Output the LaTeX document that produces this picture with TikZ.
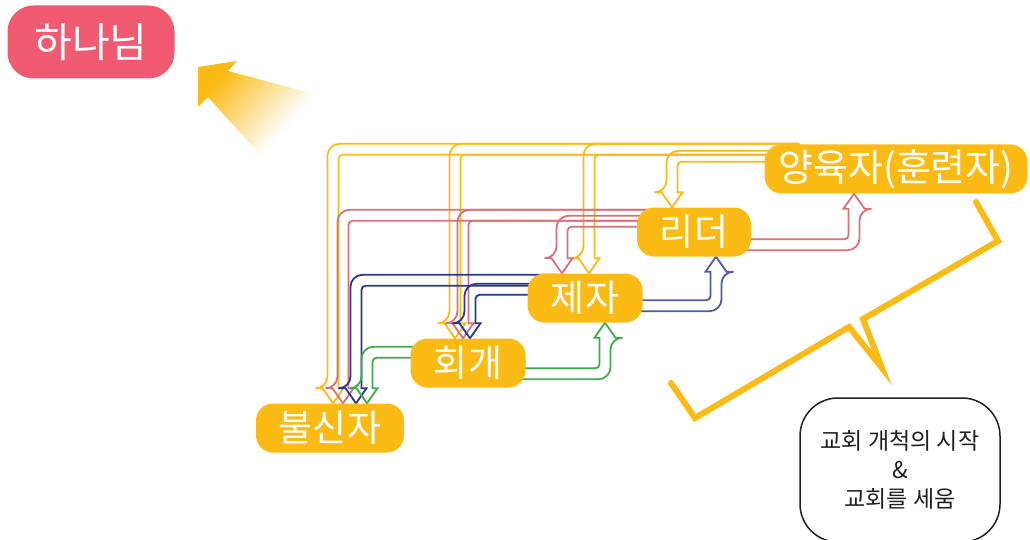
\documentclass[tikz,border=0pt]{standalone}
\usepackage{fontspec}
\newfontfamily\kr{Noto Sans CJK KR}
\usetikzlibrary{calc,backgrounds}

\definecolor{stageyellow}{RGB}{252,186,20}
\definecolor{godpink}{RGB}{241,91,114}
\definecolor{flowpink}{RGB}{219,112,122}
\definecolor{flownavy}{RGB}{40,57,143}
\definecolor{flowblue}{RGB}{76,90,168}
\definecolor{flowgreen}{RGB}{62,172,74}
\definecolor{notetext}{RGB}{35,31,32}

\newcommand\flowhalf{5.5}
\newcommand\flowlen{15}
\newcommand\flowwing{10.5}
% hollow arrow: colour, sign (1 = left then down, -1 = right then up), start, tip
\newcommand\hollowflow[4]{%
  \draw[flowline, draw=#1]
    ($(#3)+(0,{-(#2)*\flowhalf})$) -| ($(#4)+({-(#2)*\flowhalf},{-(#2)*\flowlen})$)
    [sharp corners] -- ($(#4)+({-(#2)*\flowwing},{-(#2)*\flowlen})$) -- (#4)
    -- ($(#4)+({(#2)*\flowwing},{-(#2)*\flowlen})$) -- ($(#4)+({(#2)*\flowhalf},{-(#2)*\flowlen})$)
    [rounded corners=4pt] |- ($(#3)+(0,{(#2)*\flowhalf})$);}

\tikzset{
  stage/.style={fill=stageyellow, rounded corners=17pt, text=white,
    font=\kr\fontsize{37}{37}\selectfont, minimum height=49pt, inner sep=0pt},
  godbox/.style={stage, fill=godpink, rounded corners=26pt,
    font=\kr\fontsize{41}{41}\selectfont, minimum height=73pt},
  notebox/.style={draw=notetext, line width=1.5pt, rounded corners=38pt,
    text=notetext, font=\kr\fontsize{23}{29}\selectfont, align=center,
    minimum width=200pt, minimum height=144pt},
  flowline/.style={line width=1.8pt, rounded corners=12pt},
}

\begin{document}
\begin{tikzpicture}[x=1pt,y=-1pt]
  \useasboundingbox (0,0) rectangle (1030,540);

  \node[godbox, minimum width=167pt] (god) at (91,42) {하나님};
  \node[stage, minimum width=263pt, font=\kr\fontsize{38}{38}\selectfont] (trainer) at (896,169) {양육자(훈련자)};
  \node[stage, minimum width=114pt] (leader) at (694,232) {리더};
  \node[stage, minimum width=115pt] (disciple) at (585,298) {제자};
  \node[stage, minimum width=115pt] (repent) at (468,363) {회개};
  \node[stage, minimum width=148pt] (unbeliever) at (330,428) {불신자};
  \node[notebox] (note) at (900,470) {교회 개척의 시작\\\&\\교회를 세움};

  % arrow toward god, fading out
  \begin{scope}
    \clip (198,67) -- (237,61) -- (228,71) -- (322,96) -- (272,168) -- (208,97) -- (198,107) -- cycle;
    \begin{scope}[shift={(198,67)}, rotate=-41]
      \foreach \d [evaluate=\d as \pct using {max(0,min(100,100*(105-\d)/83))}] in {0,4,...,124}
        \fill[stageyellow!\pct!white] (\d,-90) rectangle (\d+4.6,90);
    \end{scope}
  \end{scope}

  % bracket
  \draw[stageyellow, line width=6pt, line cap=round]
    (976,202) -- (998,241) -- (863,319) -- (882,368) -- (849,327) -- (695,418) -- (671,383);

  \coordinate (tr-top) at ([xshift=35pt,yshift=-5pt]trainer.north west);
  \coordinate (tr-side) at ([xshift=20pt,yshift=-12pt]trainer.north west);
  \coordinate (ld-top) at ([xshift=30pt,yshift=-8pt]leader.north west);
  \coordinate (ld-mid) at ([xshift=30pt,yshift=-14pt]leader.north west);
  \coordinate (ld-low) at ([xshift=-30pt,yshift=12pt]leader.south east);
  \coordinate (dc-top) at ([xshift=30pt,yshift=-7pt]disciple.north west);
  \coordinate (dc-mid) at ([xshift=30pt,yshift=-16pt]disciple.north west);
  \coordinate (dc-low) at ([xshift=-30pt,yshift=17pt]disciple.south east);
  \coordinate (rp-top) at ([xshift=30pt,yshift=-14pt]repent.north west);
  \coordinate (rp-low) at ([xshift=-30pt,yshift=14pt]repent.south east);

  \begin{scope}[on background layer]
    % from the trainer
    \hollowflow{stageyellow}{1}{tr-top}{[xshift=3pt]unbeliever.north}
    \hollowflow{stageyellow}{1}{tr-top}{[xshift=-13pt]repent.north}
    \hollowflow{stageyellow}{1}{tr-top}{[xshift=4pt]disciple.north}
    \hollowflow{stageyellow}{1}{tr-side}{[xshift=-22pt]leader.north}
    % from the leader
    \hollowflow{flowpink}{1}{ld-top}{[xshift=13pt]unbeliever.north}
    \hollowflow{flowpink}{1}{ld-top}{[xshift=-5pt]repent.north}
    \hollowflow{flowpink}{1}{ld-mid}{[xshift=-23pt]disciple.north}
    \hollowflow{flowpink}{-1}{ld-low}{[xshift=-42pt]trainer.south}
    % from the disciple
    \hollowflow{flownavy}{1}{dc-top}{[xshift=26pt]unbeliever.north}
    \hollowflow{flownavy}{1}{dc-mid}{[xshift=2pt]repent.north}
    \hollowflow{flowblue}{-1}{dc-low}{[xshift=22pt]leader.south}
    % from repentance
    \hollowflow{flowgreen}{1}{rp-top}{[xshift=37pt]unbeliever.north}
    \hollowflow{flowgreen}{-1}{rp-low}{[xshift=20pt]disciple.south}
  \end{scope}
\end{tikzpicture}
\end{document}
